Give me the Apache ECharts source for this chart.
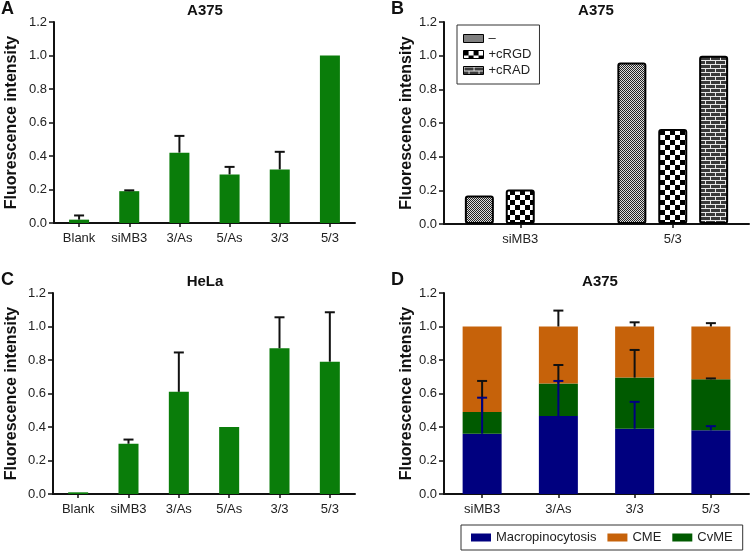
<!DOCTYPE html>
<html><head><meta charset="utf-8">
<script src="https://cdn.jsdelivr.net/npm/echarts@6/dist/echarts.min.js"></script>
<style>html,body{margin:0;padding:0;background:#fff}#c{width:752px;height:553px}</style>
</head><body><div id="c"></div>
<script>
// ---------- data ----------
const catsA = ['Blank', 'siMB3', '3/As', '5/As', '3/3', '5/3'];
const valsA = [0.02, 0.19, 0.42, 0.29, 0.32, 1.0];
const errTopA = [0.045, 0.195, 0.52, 0.335, 0.425, null];

const catsB = ['siMB3', '5/3'];
const seriesNamesB = ['\u2013', '+cRGD', '+cRAD'];
const valsB_none = [0.17, 0.96];
const valsB_cRGD = [0.205, 0.565];
const valsB_cRAD = [null, 1.0];

const catsC = ['Blank', 'siMB3', '3/As', '5/As', '3/3', '5/3'];
const valsC = [0.01, 0.30, 0.61, 0.40, 0.87, 0.79];
const errTopC = [null, 0.325, 0.845, null, 1.055, 1.085];

const catsD = ['siMB3', '3/As', '3/3', '5/3'];
const macroD = [0.36, 0.465, 0.39, 0.38];
const cvmeD = [0.13, 0.195, 0.305, 0.305];
const cmeD = [0.51, 0.34, 0.305, 0.315];
const macroErrTopD = [0.575, 0.675, 0.55, 0.405];
const cvmeErrTopD = [0.675, 0.77, 0.86, 0.69];
const cmeErrTopD = [null, 1.095, 1.025, 1.02];

const yTicks = [0, 0.2, 0.4, 0.6, 0.8, 1.0, 1.2];

// ---------- styles ----------
const FONT = "'Liberation Sans', Arial, sans-serif";
const GREEN = '#0a7d0a';
const NAVY = '#00007f';
const ORANGE = '#c6620a';
const DGREEN = '#005a00';

function makePattern(w, h, draw) {
  const c = document.createElement('canvas');
  c.width = w; c.height = h;
  const g = c.getContext('2d');
  draw(g);
  return { image: c, repeat: 'repeat' };
}
const patFine = makePattern(2, 2, g => {
  g.fillStyle = '#ddd'; g.fillRect(0, 0, 2, 2);
  g.fillStyle = '#222'; g.fillRect(0, 0, 1, 1); g.fillRect(1, 1, 1, 1);
});
const patChecker = makePattern(10, 10, g => {
  g.fillStyle = '#fff'; g.fillRect(0, 0, 10, 10);
  g.fillStyle = '#000'; g.fillRect(0, 0, 5, 5); g.fillRect(5, 5, 5, 5);
});
const patBrick = makePattern(10, 8, g => {
  g.fillStyle = '#3a3a3a'; g.fillRect(0, 0, 10, 8);
  g.fillStyle = '#e8e8e8';
  g.fillRect(0, 0, 10, 1); g.fillRect(0, 4, 10, 1);
  g.fillRect(0, 0, 1, 4); g.fillRect(5, 4, 1, 4);
});

const grids = [
  { left: 54, top: 22, width: 301, height: 201 },
  { left: 444, top: 22, width: 305, height: 202 },
  { left: 53, top: 293, width: 302, height: 201 },
  { left: 444, top: 293, width: 305, height: 201 }
];

function yAxis(gi, gap) {
  return {
    type: 'value', gridIndex: gi, min: yTicks[0], max: yTicks[yTicks.length - 1], interval: 0.2,
    name: 'Fluorescence intensity', nameLocation: 'middle', nameGap: gap,
    nameTextStyle: { fontFamily: FONT, fontWeight: 'bold', fontSize: 16, color: '#111' },
    axisLine: { show: true, lineStyle: { color: '#111', width: 2 } },
    axisTick: { show: true, length: 5, lineStyle: { color: '#111', width: 1.5 } },
    axisLabel: { fontFamily: FONT, fontSize: 13, color: '#222', margin: 7, formatter: v => v.toFixed(1) },
    splitLine: { show: false }
  };
}
function xAxis(gi, cats) {
  return {
    type: 'category', gridIndex: gi, data: cats,
    axisLine: { lineStyle: { color: '#111', width: 2 } },
    axisTick: { show: true, alignWithLabel: true, length: 4, lineStyle: { color: '#111', width: 1.5 } },
    axisLabel: { fontFamily: FONT, fontSize: 13, color: '#222', margin: 9 }
  };
}

function errSeries(gi, baseVals, tops, color, capW, z) {
  const data = [];
  tops.forEach((t, i) => { if (t != null) data.push([i, baseVals[i], t]); });
  return {
    type: 'custom', xAxisIndex: gi, yAxisIndex: gi, z: z || 5,
    encode: { x: 0, y: [1, 2] },
    data: data,
    renderItem: function (params, api) {
      const i = api.value(0);
      const p1 = api.coord([i, api.value(1)]);
      const p2 = api.coord([i, api.value(2)]);
      return {
        type: 'group', children: [
          { type: 'line', shape: { x1: p1[0], y1: p1[1], x2: p2[0], y2: p2[1] }, style: { stroke: color, lineWidth: 2 } },
          { type: 'line', shape: { x1: p2[0] - capW / 2, y1: p2[1], x2: p2[0] + capW / 2, y2: p2[1] }, style: { stroke: color, lineWidth: 2 } }
        ]
      };
    }
  };
}

const cvmeTop = cvmeD.map((v, i) => macroD[i] + v);
const cmeTop = cmeD.map((v, i) => cvmeTop[i] + v);

const titleStyle = { fontFamily: FONT, fontWeight: 'bold', fontSize: 15, color: '#111' };
const letterStyle = { fontFamily: FONT, fontWeight: 'bold', fontSize: 18, color: '#111' };

const option = {
  animation: false,
  backgroundColor: '#fff',
  title: [
    { text: 'A', left: 1, top: 0, textStyle: letterStyle, padding: 0 },
    { text: 'B', left: 391, top: 0, textStyle: letterStyle, padding: 0 },
    { text: 'C', left: 1, top: 271, textStyle: letterStyle, padding: 0 },
    { text: 'D', left: 391, top: 271, textStyle: letterStyle, padding: 0 },
    { text: 'A375', left: 205, textAlign: 'center', top: 3, textStyle: titleStyle, padding: 0 },
    { text: 'A375', left: 596, textAlign: 'center', top: 3, textStyle: titleStyle, padding: 0 },
    { text: 'HeLa', left: 205, textAlign: 'center', top: 274, textStyle: titleStyle, padding: 0 },
    { text: 'A375', left: 600, textAlign: 'center', top: 274, textStyle: titleStyle, padding: 0 }
  ],
  legend: [
    {
      data: seriesNamesB, orient: 'vertical', left: 457, top: 25, icon: 'rect',
      itemWidth: 20, itemHeight: 8, itemGap: 3, padding: [7, 8, 7, 6],
      borderColor: '#333', borderWidth: 1,
      textStyle: { fontFamily: FONT, fontSize: 13, color: '#222' },
      itemStyle: { borderWidth: 1 }
    },
    {
      data: ['Macropinocytosis', 'CME', 'CvME'], orient: 'horizontal', left: 461, top: 525, icon: 'rect',
      itemWidth: 20, itemHeight: 8, itemGap: 11, padding: [6, 10, 6, 10],
      borderColor: '#333', borderWidth: 1,
      textStyle: { fontFamily: FONT, fontSize: 13, color: '#222' }
    }
  ],
  grid: grids,
  xAxis: [xAxis(0, catsA), xAxis(1, catsB), xAxis(2, catsC), xAxis(3, catsD)],
  yAxis: [yAxis(0, 34), yAxis(1, 29), yAxis(2, 33), yAxis(3, 29)],
  series: [
    { type: 'bar', xAxisIndex: 0, yAxisIndex: 0, data: valsA, barWidth: 20, itemStyle: { color: GREEN } },
    errSeries(0, valsA, errTopA, '#111', 10),
    { type: 'bar', xAxisIndex: 2, yAxisIndex: 2, data: valsC, barWidth: 20, itemStyle: { color: GREEN } },
    errSeries(2, valsC, errTopC, '#111', 10),

    { name: seriesNamesB[0], type: 'bar', xAxisIndex: 1, yAxisIndex: 1, data: valsB_none, barWidth: 29, barGap: '41%',
      itemStyle: { color: patFine, borderColor: '#000', borderWidth: 2, borderRadius: 2 } },
    { name: seriesNamesB[1], type: 'bar', xAxisIndex: 1, yAxisIndex: 1, data: valsB_cRGD, barWidth: 29, barGap: '41%',
      itemStyle: { color: patChecker, borderColor: '#000', borderWidth: 2, borderRadius: 2 } },
    { name: seriesNamesB[2], type: 'bar', xAxisIndex: 1, yAxisIndex: 1, data: valsB_cRAD, barWidth: 29, barGap: '41%',
      itemStyle: { color: patBrick, borderColor: '#000', borderWidth: 2, borderRadius: 2 } },

    { name: 'Macropinocytosis', type: 'bar', stack: 'd', xAxisIndex: 3, yAxisIndex: 3, data: macroD, barWidth: 39, itemStyle: { color: NAVY } },
    { name: 'CvME', type: 'bar', stack: 'd', xAxisIndex: 3, yAxisIndex: 3, data: cvmeD, barWidth: 39, itemStyle: { color: DGREEN } },
    { name: 'CME', type: 'bar', stack: 'd', xAxisIndex: 3, yAxisIndex: 3, data: cmeD, barWidth: 39, itemStyle: { color: ORANGE } },
    errSeries(3, cmeTop, cmeErrTopD, '#111', 10, 5),
    errSeries(3, cvmeTop, cvmeErrTopD, '#111', 10, 6),
    errSeries(3, macroD, macroErrTopD, NAVY, 10, 7)
  ]
};

const chart = echarts.init(document.getElementById('c'), null, { renderer: 'canvas' });
chart.setOption(option);
</script>
</body></html>
